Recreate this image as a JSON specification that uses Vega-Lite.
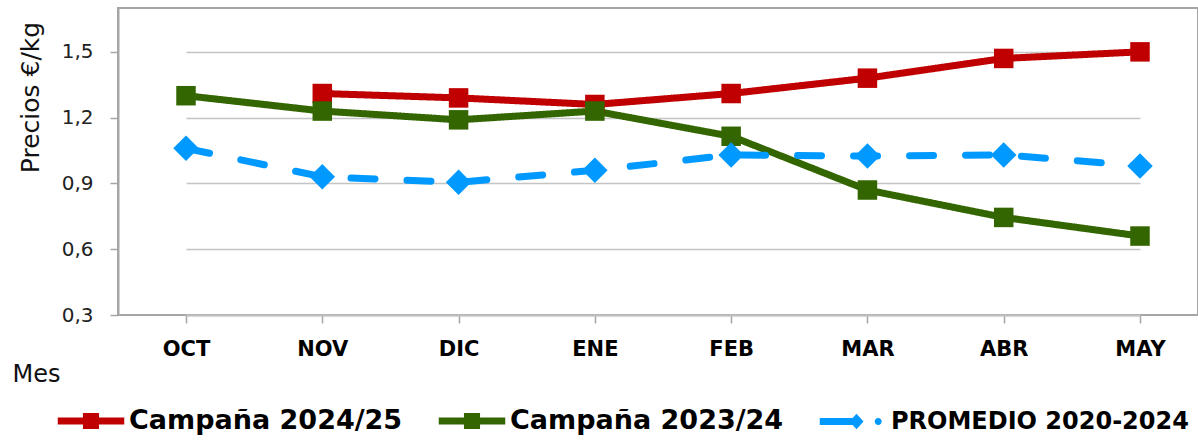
{
  "$schema": "https://vega.github.io/schema/vega-lite/v6.json",
  "autosize": {"type": "none"},
  "padding": {"left": 118, "top": 8, "right": 0, "bottom": 128},
  "width": 1080,
  "height": 307,
  "background": "white",
  "config": {
    "view": {"stroke": "#a6a6a6", "strokeWidth": 2},
    "font": "DejaVu Sans"
  },
  "data": {
    "values": [
      {"mes": "NOV", "serie": "Campaña 2024/25", "precio": 1.31},
      {"mes": "DIC", "serie": "Campaña 2024/25", "precio": 1.29},
      {"mes": "ENE", "serie": "Campaña 2024/25", "precio": 1.26},
      {"mes": "FEB", "serie": "Campaña 2024/25", "precio": 1.31},
      {"mes": "MAR", "serie": "Campaña 2024/25", "precio": 1.38},
      {"mes": "ABR", "serie": "Campaña 2024/25", "precio": 1.47},
      {"mes": "MAY", "serie": "Campaña 2024/25", "precio": 1.50},
      {"mes": "OCT", "serie": "Campaña 2023/24", "precio": 1.30},
      {"mes": "NOV", "serie": "Campaña 2023/24", "precio": 1.23},
      {"mes": "DIC", "serie": "Campaña 2023/24", "precio": 1.19},
      {"mes": "ENE", "serie": "Campaña 2023/24", "precio": 1.23},
      {"mes": "FEB", "serie": "Campaña 2023/24", "precio": 1.115},
      {"mes": "MAR", "serie": "Campaña 2023/24", "precio": 0.87},
      {"mes": "ABR", "serie": "Campaña 2023/24", "precio": 0.745},
      {"mes": "MAY", "serie": "Campaña 2023/24", "precio": 0.66},
      {"mes": "OCT", "serie": "PROMEDIO 2020-2024", "precio": 1.06},
      {"mes": "NOV", "serie": "PROMEDIO 2020-2024", "precio": 0.93},
      {"mes": "DIC", "serie": "PROMEDIO 2020-2024", "precio": 0.905},
      {"mes": "ENE", "serie": "PROMEDIO 2020-2024", "precio": 0.96},
      {"mes": "FEB", "serie": "PROMEDIO 2020-2024", "precio": 1.03},
      {"mes": "MAR", "serie": "PROMEDIO 2020-2024", "precio": 1.025},
      {"mes": "ABR", "serie": "PROMEDIO 2020-2024", "precio": 1.03},
      {"mes": "MAY", "serie": "PROMEDIO 2020-2024", "precio": 0.98}
    ]
  },
  "encoding": {
    "x": {
      "field": "mes",
      "type": "ordinal",
      "sort": ["OCT", "NOV", "DIC", "ENE", "FEB", "MAR", "ABR", "MAY"],
      "scale": {"type": "point", "range": [68, 1022], "padding": 0},
      "axis": {
        "title": "Mes",
        "titleFont": "DejaVu Sans",
        "titleFontSize": 24,
        "titleFontWeight": "normal",
        "titleColor": "#111",
        "titleAnchor": "start",
        "titleAlign": "left",
        "titleBaseline": "middle",
        "titleX": -106,
        "titleY": 59,
        "labelAngle": 0,
        "labelFont": "DejaVu Sans",
        "labelFontWeight": "bold",
        "labelFontSize": 21,
        "labelColor": "#000",
        "labelPadding": 15,
        "tickSize": 8,
        "tickColor": "#a6a6a6",
        "tickWidth": 1.5,
        "domainColor": "#bfbfbf",
        "domainWidth": 2,
        "grid": false
      }
    },
    "y": {
      "field": "precio",
      "type": "quantitative",
      "scale": {"domain": [0.3, 1.7], "nice": false, "zero": false},
      "axis": {
        "title": "Precios €/kg",
        "titleFont": "DejaVu Sans",
        "titleFontSize": 25,
        "titleFontWeight": "normal",
        "titleColor": "#111",
        "titleAngle": -90,
        "titleAlign": "center",
        "titleBaseline": "middle",
        "titleX": -88,
        "titleY": 89,
        "values": [0.3, 0.6, 0.9, 1.2, 1.5],
        "labelExpr": "replace(format(datum.value, '.1f'), '.', ',')",
        "labelFont": "DejaVu Sans",
        "labelFontSize": 20,
        "labelColor": "#222",
        "labelPadding": 17,
        "tickSize": 8,
        "tickColor": "#a6a6a6",
        "tickWidth": 1.5,
        "domainColor": "#a6a6a6",
        "domainWidth": 2,
        "grid": true,
        "gridColor": "#c4c4c4",
        "gridWidth": 1.5
      }
    },
    "color": {
      "field": "serie",
      "type": "nominal",
      "scale": {
        "domain": ["Campaña 2024/25", "Campaña 2023/24", "PROMEDIO 2020-2024"],
        "range": ["#C00000", "#336600", "#0099FF"]
      },
      "legend": {
        "title": null,
        "orient": "none",
        "direction": "horizontal",
        "legendX": -62,
        "legendY": 378,
        "symbolSize": 4900,
        "labelFont": "DejaVu Sans",
        "labelFontWeight": "bold",
        "labelFontSize": 27,
        "labelColor": "#000",
        "labelOffset": 3,
        "labelLimit": 400,
        "columnPadding": 34,
        "encode": {
          "labels": {
            "update": {
              "fontSize": {"signal": "datum.value === 'PROMEDIO 2020-2024' ? 24 : 27"}
            }
          },
          "symbols": {
            "update": {
              "shape": {"signal": "datum.value === 'PROMEDIO 2020-2024' ? 'M-0.95,-0.1H0.1V0.1H-0.95Z M0.1,-0.22L0.3,0L0.1,0.22L-0.1,0Z M0.62,0A0.1,0.1 0 1,0 0.82,0A0.1,0.1 0 1,0 0.62,0Z' : 'M-0.95,-0.1H0.95V0.1H-0.95Z M-0.23,-0.23H0.23V0.23H-0.23Z'"},
              "size": {"value": 4900},
              "fill": {"scale": "color", "field": "value"},
              "stroke": {"value": "transparent"},
              "strokeWidth": {"value": 0},
              "strokeDash": {"value": [1, 0]},
              "opacity": {"value": 1}
            }
          }
        }
      }
    }
  },
  "layer": [
    {
      "mark": {"type": "line", "strokeWidth": 7, "strokeCap": "round", "strokeJoin": "round"},
      "encoding": {
        "strokeDash": {
          "field": "serie",
          "type": "nominal",
          "scale": {
            "domain": ["Campaña 2024/25", "Campaña 2023/24", "PROMEDIO 2020-2024"],
            "range": [[1, 0], [1, 0], [24, 32]]
          },
          "legend": null
        }
      }
    },
    {
      "transform": [{"filter": "datum.serie !== 'PROMEDIO 2020-2024'"}],
      "mark": {"type": "point", "shape": "square", "size": 380, "filled": true, "opacity": 1}
    },
    {
      "transform": [{"filter": "datum.serie === 'PROMEDIO 2020-2024'"}],
      "mark": {"type": "point", "shape": "diamond", "size": 650, "filled": true, "opacity": 1}
    }
  ]
}
